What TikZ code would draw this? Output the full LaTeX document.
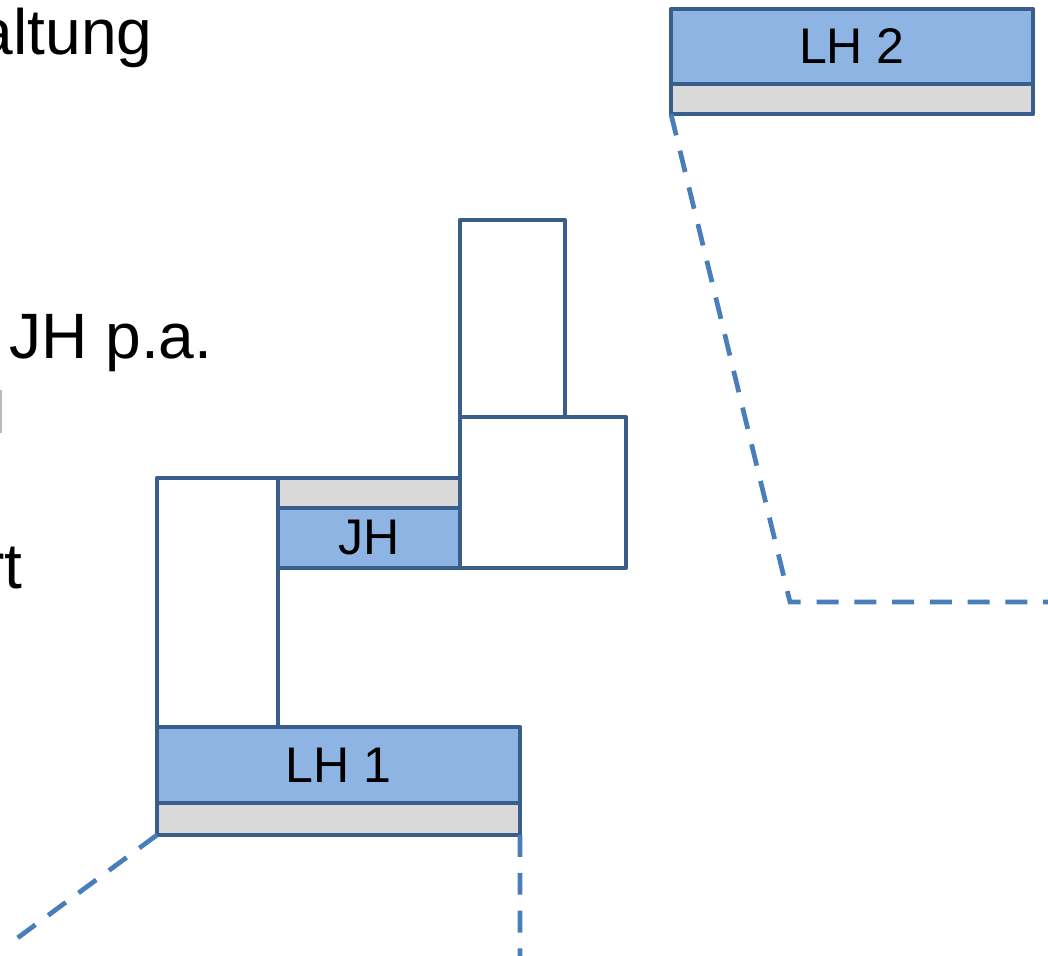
\documentclass[tikz,border=0pt]{standalone}
\usepackage{fontspec}
\setmainfont{Liberation Sans}
\definecolor{boxline}{HTML}{3A5E8C}
\definecolor{boxblue}{HTML}{8EB4E3}
\definecolor{boxgray}{HTML}{D9D9D9}
\definecolor{dashblue}{HTML}{4A7EBB}
\tikzset{
  blk/.style={draw=boxline, line width=2.6pt, line join=round, inner sep=0pt, outer sep=0pt, anchor=north west, font=\fontsize{28.5}{30}\selectfont},
  bluebox/.style={blk, fill=boxblue},
  graybox/.style={blk, fill=boxgray},
  whitebox/.style={blk, fill=white},
  dashline/.style={draw=dashblue, line width=2.7pt, dash pattern=on 12.5pt off 9pt},
  bigtext/.style={inner sep=0pt, font=\fontsize{36.5}{40}\selectfont}
}
\begin{document}
\begin{tikzpicture}[x=0.02cm, y=-0.02cm]
\useasboundingbox (0,0) rectangle (1048,956);
% left-edge texts
\node[bigtext, anchor=base east] (t1) at (153,55) {altung};
\node[bigtext, anchor=base west] (t2) at (9,358) {JH p.a.};
\node[bigtext, anchor=base east] (t3) at (23,588) {rt};
\draw[color=gray!55, line width=1.2pt] (1,390) -- (1,433);
% boxes
\node[whitebox, minimum width=2.42cm, minimum height=4.98cm] (left) at (157,478) {};
\node[graybox, minimum width=3.64cm, minimum height=0.6cm] (jhg) at (278,478) {};
\node[bluebox, minimum width=3.64cm, minimum height=1.2cm] (jh) at (278,508) {JH};
\node[whitebox, minimum width=3.32cm, minimum height=3.02cm] (rbox) at (460,417) {};
\node[whitebox, minimum width=2.1cm, minimum height=3.94cm] (top) at (460,220) {};
\node[bluebox, minimum width=7.26cm, minimum height=1.52cm] (lh1) at (157,727) {LH 1};
\node[graybox, minimum width=7.26cm, minimum height=0.64cm] (lh1g) at (157,803) {};
\node[bluebox, minimum width=7.24cm, minimum height=1.5cm] (lh2) at (671,9) {LH 2};
\node[graybox, minimum width=7.24cm, minimum height=0.6cm] (lh2g) at (671,84) {};
% dashed connectors
\coordinate (e1) at (8,945);
\coordinate (e2) at (520,960);
\coordinate (k1) at (790,602);
\coordinate (e3) at (1052,602);
\draw[dashline] (lh1g.south west) -- (e1);
\draw[dashline] (lh1g.south east) -- (e2);
\draw[dashline] (lh2g.south west) -- (k1) -- (e3);
\end{tikzpicture}
\end{document}
